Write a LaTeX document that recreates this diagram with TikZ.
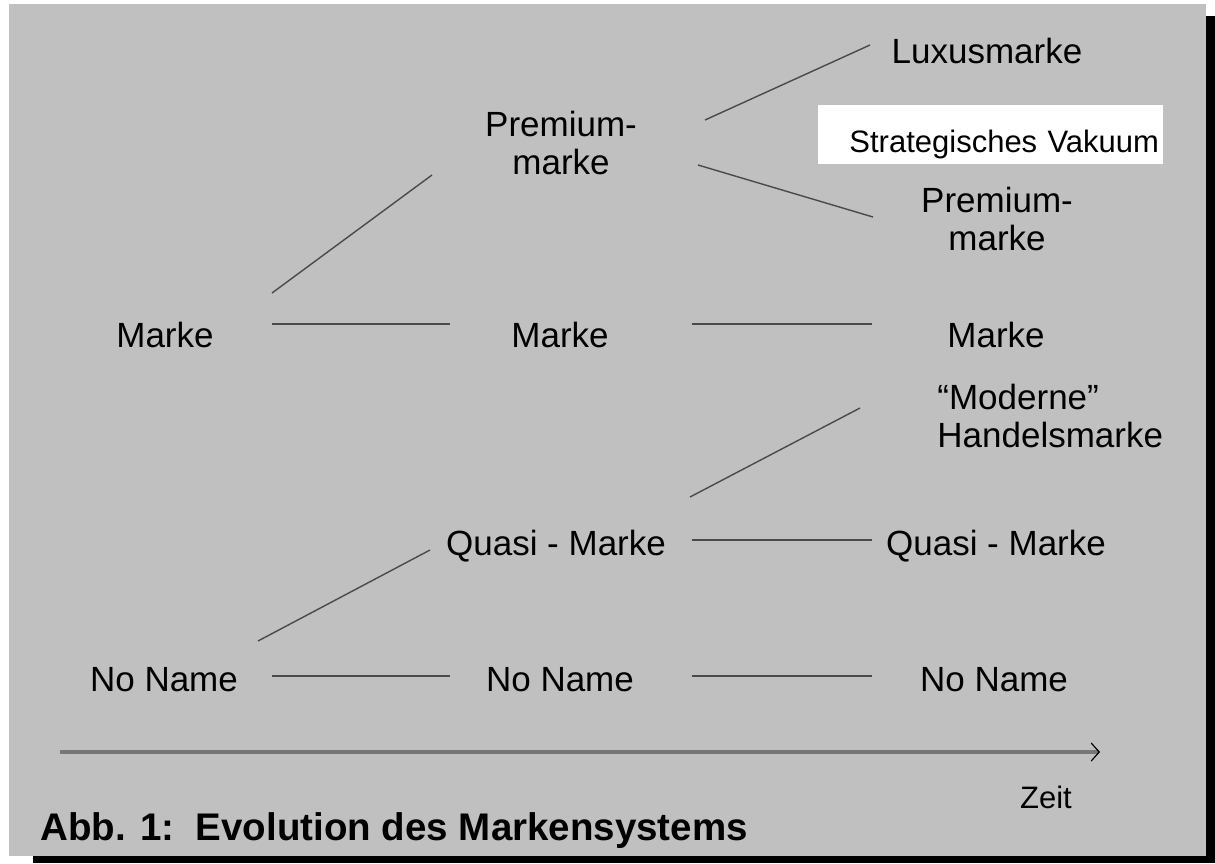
\documentclass[tikz,border=0pt]{standalone}
\usepackage{fontspec}
\setmainfont{Liberation Sans}
\usetikzlibrary{arrows.meta}
\definecolor{panelgray}{HTML}{C0C0C0}
\definecolor{linkgray}{HTML}{4A4A4A}
\definecolor{axisgray}{HTML}{767676}
\tikzset{
  brand/.style={inner sep=0pt,align=center,font=\fontsize{17.5}{19}\selectfont},
  link/.style={draw=linkgray,line width=0.7pt},
}
\begin{document}
\begin{tikzpicture}[x=0.5pt,y=-0.5pt]
\useasboundingbox (0,0) rectangle (1215,863);
% panel with shadow
\fill[black] (33,16) rectangle (1215,863);
\fill[panelgray] (9,4) rectangle (1206,856);
% brands
\node[brand] (mL) at (165,335) {Marke};
\node[brand] (nL) at (164,680) {No Name};
\node[brand] (pM) at (561,143) {Premium-\\marke};
\node[brand] (mM) at (560,335) {Marke};
\node[brand] (qM) at (556,546) {Quasi - Marke};
\node[brand] (nM) at (560,680) {No Name};
\node[brand] (lux) at (987,51) {Luxusmarke};
\node[brand] (pR) at (997,219) {Premium-\\marke};
\node[brand] (mR) at (996,335) {Marke};
\node[brand,anchor=west,align=left] (hm) at (937,416) {“Moderne”\\Handelsmarke};
\node[brand] (qR) at (996,546) {Quasi - Marke};
\node[brand] (nR) at (994,680) {No Name};
\node[fill=white,inner xsep=2pt,inner ysep=0pt,text width=168.5pt,align=right,
  minimum height=29.5pt,text height=20.8pt,text depth=3.25pt,
  font=\fontsize{15.5}{17}\selectfont] (sv) at (990.5,134.5) {Strategisches Vakuum};
% links
\draw[link] ([shift={(107,-42)}]mL.center) -- ([shift={(-129,32)}]pM.center);
\draw[link] ([shift={(144,-23)}]pM.center) -- ([shift={(-117,-6)}]lux.center);
\draw[link] ([shift={(137,22)}]pM.center) -- ([shift={(-124,-2)}]pR.center);
\draw[link] ([shift={(107,-11)}]mL.center) -- ([shift={(-110,-11)}]mM.center);
\draw[link] ([shift={(132,-11)}]mM.center) -- ([shift={(-124,-11)}]mR.center);
\draw[link] ([shift={(134,-49)}]qM.center) -- ([shift={(-77,-8)}]hm.west);
\draw[link] ([shift={(136,-6)}]qM.center) -- ([shift={(-124,-6)}]qR.center);
\draw[link] ([shift={(94,-39)}]nL.center) -- ([shift={(-126,4)}]qM.center);
\draw[link] ([shift={(108,-4)}]nL.center) -- ([shift={(-110,-4)}]nM.center);
\draw[link] ([shift={(132,-4)}]nM.center) -- ([shift={(-122,-4)}]nR.center);
% time axis
\coordinate (t0) at (60,752);
\coordinate (t1) at (1100,752);
\draw[draw=axisgray,line width=1.6pt,-{Straight Barb[length=4pt,width=9pt,line width=0.6pt,color=black]}] (t0) -- (t1);
\node[inner sep=0pt,font=\fontsize{15.5}{17}\selectfont] (zeit) at (1046,797) {Zeit};
\node[anchor=base west,inner sep=0pt,font=\fontsize{19.25}{21}\selectfont\bfseries] (caption) at (40,840) {Abb. 1:\ \ Evolution des Markensystems};
\end{tikzpicture}
\end{document}
